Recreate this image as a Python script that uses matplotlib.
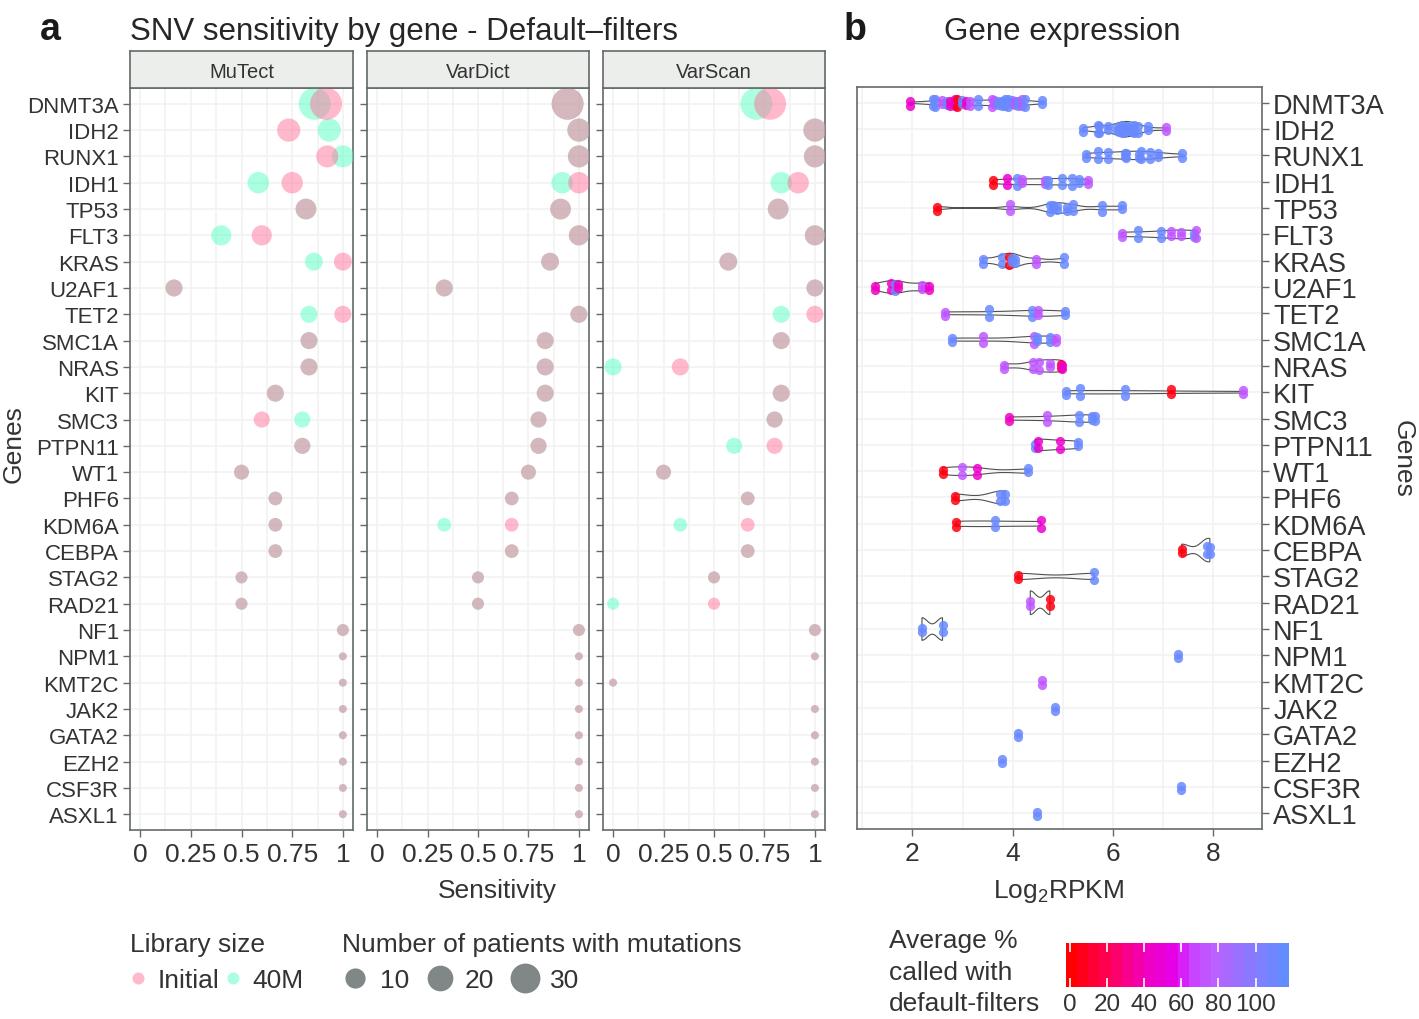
import numpy as np
import matplotlib
matplotlib.use('Agg')
import matplotlib.pyplot as plt
from matplotlib.colors import LinearSegmentedColormap, Normalize
from matplotlib.cm import ScalarMappable
from matplotlib.lines import Line2D

plt.rcParams['font.family'] = ['Liberation Sans', 'DejaVu Sans']

# ---- data -------------------------------------------------------------
genes = ['DNMT3A', 'IDH2', 'RUNX1', 'IDH1', 'TP53', 'FLT3', 'KRAS', 'U2AF1',
         'TET2', 'SMC1A', 'NRAS', 'KIT', 'SMC3', 'PTPN11', 'WT1', 'PHF6',
         'KDM6A', 'CEBPA', 'STAG2', 'RAD21', 'NF1', 'NPM1', 'KMT2C', 'JAK2',
         'GATA2', 'EZH2', 'CSF3R', 'ASXL1']
n_patients = [36, 15, 13, 12, 11, 10, 7, 6, 6, 6, 6, 6, 5, 5, 4, 3, 3, 3,
              2, 2, 2, 1, 1, 1, 1, 1, 1, 1]

callers = ['MuTect', 'VarDict', 'VarScan']
mutect_initial = [0.917, 0.733, 0.923, 0.75, 0.818, 0.6, 1, 0.167, 1, 0.833,
                  0.833, 0.667, 0.6, 0.8, 0.5, 0.667, 0.667, 0.667, 0.5, 0.5,
                  1, 1, 1, 1, 1, 1, 1, 1]
mutect_40m = [0.861, 0.933, 1, 0.583, 0.818, 0.4, 0.857, 0.167, 0.833, 0.833,
              0.833, 0.667, 0.8, 0.8, 0.5, 0.667, 0.667, 0.667, 0.5, 0.5,
              1, 1, 1, 1, 1, 1, 1, 1]
vardict_initial = [0.944, 1, 1, 1, 0.909, 1, 0.857, 0.333, 1, 0.833, 0.833,
                   0.833, 0.8, 0.8, 0.75, 0.667, 0.667, 0.667, 0.5, 0.5,
                   1, 1, 1, 1, 1, 1, 1, 1]
vardict_40m = [0.944, 1, 1, 0.917, 0.909, 1, 0.857, 0.333, 1, 0.833, 0.833,
               0.833, 0.8, 0.8, 0.75, 0.667, 0.333, 0.667, 0.5, 0.5,
               1, 1, 1, 1, 1, 1, 1, 1]
varscan_initial = [0.778, 1, 1, 0.917, 0.818, 1, 0.571, 1, 1, 0.833, 0.333,
                   0.833, 0.8, 0.8, 0.25, 0.667, 0.667, 0.667, 0.5, 0.5,
                   1, 1, 0, 1, 1, 1, 1, 1]
varscan_40m = [0.71, 1, 1, 0.833, 0.818, 1, 0.571, 1, 0.833, 0.833, 0,
               0.833, 0.8, 0.6, 0.25, 0.667, 0.333, 0.667, 0.5, 0,
               1, 1, 0, 1, 1, 1, 1, 1]

# log2 RPKM per gene and average % called with default filters
expr_log2rpkm = [
    [1.95, 2.42, 2.45, 2.59, 2.69, 2.75, 2.84, 2.88, 2.98, 3.07, 3.15, 3.30,
     3.58, 3.62, 3.71, 3.78, 3.84, 3.91, 3.98, 4.05, 4.11, 4.18, 4.25, 4.58],
    [5.41, 5.70, 5.72, 5.90, 6.08, 6.12, 6.18, 6.22, 6.28, 6.31, 6.38, 6.42,
     6.50, 6.70, 7.06],
    [5.47, 5.71, 5.89, 6.23, 6.25, 6.52, 6.55, 6.74, 6.89, 7.37],
    [3.61, 3.88, 4.08, 4.18, 4.64, 4.71, 4.98, 5.18, 5.32, 5.51],
    [2.49, 3.95, 4.74, 4.80, 4.88, 5.08, 5.21, 5.77, 6.17],
    [6.17, 6.49, 6.96, 7.16, 7.36, 7.62, 7.65],
    [3.40, 3.78, 3.93, 3.98, 4.05, 4.46, 5.02],
    [1.26, 1.57, 1.65, 1.71, 2.19, 2.33],
    [2.64, 3.53, 4.39, 4.51, 5.04],
    [2.78, 3.40, 4.43, 4.48, 4.74, 4.86],
    [3.83, 4.41, 4.52, 4.74, 4.97, 4.98],
    [5.06, 5.34, 6.23, 7.16, 8.60],
    [3.93, 4.68, 5.32, 5.59, 5.65],
    [4.45, 4.50, 4.94, 5.31],
    [2.60, 2.98, 3.29, 4.30],
    [2.85, 3.75, 3.85],
    [2.87, 3.65, 4.56],
    [7.37, 7.88, 7.93],
    [4.11, 5.62],
    [4.35, 4.74],
    [2.19, 2.60],
    [7.30], [4.59], [4.84], [4.10], [3.79], [7.35], [4.48],
]
expr_pct = [
    [45, 115, 115, 75, 115, 40, 45, 2, 115, 45, 75, 115,
     75, 75, 115, 115, 115, 115, 115, 75, 115, 75, 115, 115],
    [115] * 14 + [75],
    [115] * 10,
    [2, 45, 115, 75, 75, 115, 115, 115, 115, 75],
    [2, 75, 115, 115, 115, 115, 115, 115, 115],
    [75, 115, 115, 75, 75, 115, 75],
    [115, 115, 2, 115, 115, 75, 115],
    [40, 40, 115, 40, 70, 45],
    [75, 115, 115, 75, 115],
    [115, 75, 75, 115, 115, 75],
    [75, 75, 75, 75, 2, 45],
    [115, 115, 115, 2, 75],
    [40, 75, 115, 115, 115],
    [115, 45, 45, 115],
    [2, 75, 45, 115],
    [2, 115, 115],
    [2, 115, 45],
    [2, 115, 115],
    [2, 115],
    [75, 2],
    [115, 115],
    [115], [75], [115], [115], [115], [115], [115],
]
size_breaks = [10, 20, 30]
pct_ticks = [0, 20, 40, 60, 80, 100]

# ---- layout helpers ---------------------------------------------------
W, H = 1419, 1020
fig = plt.figure(figsize=(W / 100, H / 100), dpi=100)


def rect(x0, y0, x1, y1):
    return [x0 / W, 1 - y1 / H, (x1 - x0) / W, (y1 - y0) / H]


TXT = '#333333'
BORDER = '#646969'
GRID = '#F2F2F2'
PINK = '#FF739B'
CYAN = '#55FFC3'

ypos = np.arange(1, len(genes) + 1)
max_n = max(n_patients)


def bubble(n):
    d_px = 8 + 24 * np.sqrt((np.asarray(n, float) - 1) / (max_n - 1))
    return (d_px * 0.72) ** 2


def style_panel(ax):
    for sp in ax.spines.values():
        sp.set_color(BORDER)
        sp.set_linewidth(1.2)
    ax.grid(which='both', color=GRID, lw=1.2)
    ax.set_axisbelow(True)
    ax.tick_params(which='minor', length=0)
    ax.tick_params(which='major', color=BORDER, length=5, width=1,
                   labelcolor=TXT)


# ---- panel a ----------------------------------------------------------
series = {'MuTect': (mutect_initial, mutect_40m),
          'VarDict': (vardict_initial, vardict_40m),
          'VarScan': (varscan_initial, varscan_40m)}
facet_x = [(130, 353), (367, 589), (603, 825)]

for i, name in enumerate(callers):
    x0, x1 = facet_x[i]
    ax = fig.add_axes(rect(x0, 89, x1, 831))
    init, m40 = series[name]
    sizes = bubble(n_patients)
    ax.scatter(m40, ypos, s=sizes, color=CYAN, alpha=0.5, lw=0, zorder=3)
    ax.scatter(init, ypos, s=sizes, color=PINK, alpha=0.5, lw=0, zorder=3)
    ax.set_xlim(-0.05, 1.05)
    ax.set_ylim(28.6, 0.4)
    ax.set_xticks([0, 0.25, 0.5, 0.75, 1])
    ax.set_xticklabels(['0', '0.25', '0.5', '0.75', '1'], fontsize=19)
    ax.set_xticks([0.125, 0.375, 0.625, 0.875], minor=True)
    ax.set_yticks(ypos)
    if i == 0:
        ax.set_yticklabels(genes, fontsize=16)
    else:
        ax.set_yticklabels([])
        ax.tick_params(axis='y', length=0)
    style_panel(ax)
    ax.tick_params(axis='x', pad=4)
    ax.tick_params(axis='y', pad=3)

    sx = fig.add_axes(rect(x0, 52, x1, 89))
    sx.set_facecolor('#ECEEEC')
    sx.set_xticks([])
    sx.set_yticks([])
    for sp in sx.spines.values():
        sp.set_color(BORDER)
        sp.set_linewidth(1.2)
    sx.text(0.5, 0.45, name, ha='center', va='center', fontsize=14.5,
            color=TXT, transform=sx.transAxes)

fig.text(130 / W, 1 - 40 / H, 'SNV sensitivity by gene - Default\u2013filters',
         fontsize=22.5, color='#262626', va='baseline')
fig.text(40 / W, 1 - 40 / H, 'a', fontsize=27, fontweight='bold',
         color='#1a1a1a', va='baseline')
fig.text(497 / W, 1 - 898 / H, 'Sensitivity', fontsize=19, color=TXT,
         ha='center', va='baseline')
fig.text(14 / W, 1 - 444 / H, 'Genes', fontsize=19, color=TXT,
         rotation=90, ha='center', va='center')

# legends for panel a
lib_handles = [Line2D([], [], ls='', marker='o', ms=12 * 0.72, mew=0,
                      color=c, alpha=0.5) for c in (PINK, CYAN)]
leg1 = fig.legend(lib_handles, ['Initial', '40M'], title='Library size',
                  loc='upper left', bbox_to_anchor=(117 / W, 1 - 920 / H),
                  ncol=2, frameon=False, fontsize=19, title_fontsize=19,
                  alignment='left', borderpad=0, handlelength=0.6,
                  handletextpad=0.45, columnspacing=0.2, labelspacing=0.45,
                  labelcolor=TXT)
leg1.get_title().set_color(TXT)
size_handles = [Line2D([], [], ls='', marker='o', ms=np.sqrt(bubble(v)),
                       mew=0, color='#808787') for v in size_breaks]
leg2 = fig.legend(size_handles, [str(v) for v in size_breaks],
                  title='Number of patients with mutations',
                  loc='upper left', bbox_to_anchor=(329 / W, 1 - 920 / H),
                  ncol=3, frameon=False, fontsize=19, title_fontsize=19,
                  alignment='left', borderpad=0, handlelength=1.0,
                  handletextpad=0.45, columnspacing=0.65, labelspacing=0.45,
                  labelcolor=TXT)
leg2.get_title().set_color(TXT)

# ---- panel b ----------------------------------------------------------
cmap = LinearSegmentedColormap.from_list('pct', [
    (0.0, (1.0, 0.0, 0.0)),
    (0.18, (1.0, 0.0, 0.35)),
    (0.35, (0.94, 0.0, 0.75)),
    (0.5, (0.89, 0.0, 0.93)),
    (0.55, (0.80, 0.24, 1.0)),
    (0.68, (0.73, 0.38, 1.0)),
    (0.85, (0.53, 0.48, 1.0)),
    (1.0, (0.39, 0.55, 1.0)),
])
norm = Normalize(vmin=-2, vmax=118)

bx = fig.add_axes(rect(857, 88, 1262, 830))


def kde_nrd0(v):
    v = np.asarray(v, float)
    n = len(v)
    sd = v.std(ddof=1)
    q75, q25 = np.percentile(v, [75, 25])
    lo = min(sd, (q75 - q25) / 1.34)
    if lo == 0:
        lo = sd if sd > 0 else 1.0
    bw = 0.9 * lo * n ** -0.2
    grid = np.linspace(v.min(), v.max(), 512)
    dens = np.exp(-0.5 * ((grid[:, None] - v[None, :]) / bw) ** 2).sum(1)
    dens /= n * bw * np.sqrt(2 * np.pi)
    return grid, dens


kdes = {}
for g, vals in zip(genes, expr_log2rpkm):
    if len(set(vals)) > 1:
        kdes[g] = kde_nrd0(vals)
gmax = max(d.max() for _, d in kdes.values())

for yi, g in zip(ypos, genes):
    if g in kdes:
        grid, dens = kdes[g]
        hw = 0.45 * dens / gmax
        bx.fill(np.concatenate([grid, grid[::-1]]),
                np.concatenate([yi - hw, (yi + hw)[::-1]]),
                facecolor='none', edgecolor='#505050', lw=0.8, zorder=2)

jit = [0.05, 0.11, 0.15, 0.08, 0.13]
for yi, vals, pct in zip(ypos, expr_log2rpkm, expr_pct):
    for k, (v, p) in enumerate(zip(vals, pct)):
        up = jit[(k * 2) % 5]
        dn = jit[(k * 3 + 1) % 5]
        bx.scatter([v, v], [yi - up, yi + dn], s=44, color=cmap(norm(p)),
                   alpha=0.85, lw=0, zorder=3)

bx.set_xlim(0.895, 8.97)
bx.set_ylim(28.6, 0.4)
bx.set_xticks([2, 4, 6, 8])
bx.set_xticklabels(['2', '4', '6', '8'], fontsize=19)
bx.set_xticks([1, 3, 5, 7], minor=True)
bx.set_yticks(ypos)
bx.set_yticklabels(genes, fontsize=19.5)
bx.yaxis.tick_right()
style_panel(bx)
bx.tick_params(axis='x', pad=4)
bx.tick_params(axis='y', pad=3)

fig.text(844 / W, 1 - 40 / H, 'b', fontsize=27, fontweight='bold',
         color='#1a1a1a', va='baseline')
fig.text(944 / W, 1 - 40 / H, 'Gene expression', fontsize=22.5,
         color='#262626', va='baseline')
fig.text(1059 / W, 1 - 898 / H, r'Log$_{\mathregular{2}}$RPKM', fontsize=19,
         color=TXT, ha='center', va='baseline')
fig.text(1403 / W, 1 - 459 / H, 'Genes', fontsize=19, color=TXT,
         rotation=-90, ha='center', va='center')

# colour bar legend
for txt, yb in zip(['Average %', 'called with', 'default-filters'],
                   [948, 980, 1011]):
    fig.text(889 / W, 1 - yb / H, txt, fontsize=19, color=TXT,
             va='baseline')
cax = fig.add_axes(rect(1066, 944, 1289, 988))
cb = fig.colorbar(ScalarMappable(norm=norm, cmap=cmap.resampled(20)),
                  cax=cax, orientation='horizontal', ticks=pct_ticks)
cb.outline.set_visible(False)
cax.tick_params(length=0, labelsize=17.5, labelcolor=TXT, pad=4)
cax.vlines(pct_ticks, 0, 0.2, color='white', lw=1.2,
           transform=cax.get_xaxis_transform())
cax.vlines(pct_ticks, 0.8, 1, color='white', lw=1.2,
           transform=cax.get_xaxis_transform())

fig.savefig('out.png', dpi=100)
